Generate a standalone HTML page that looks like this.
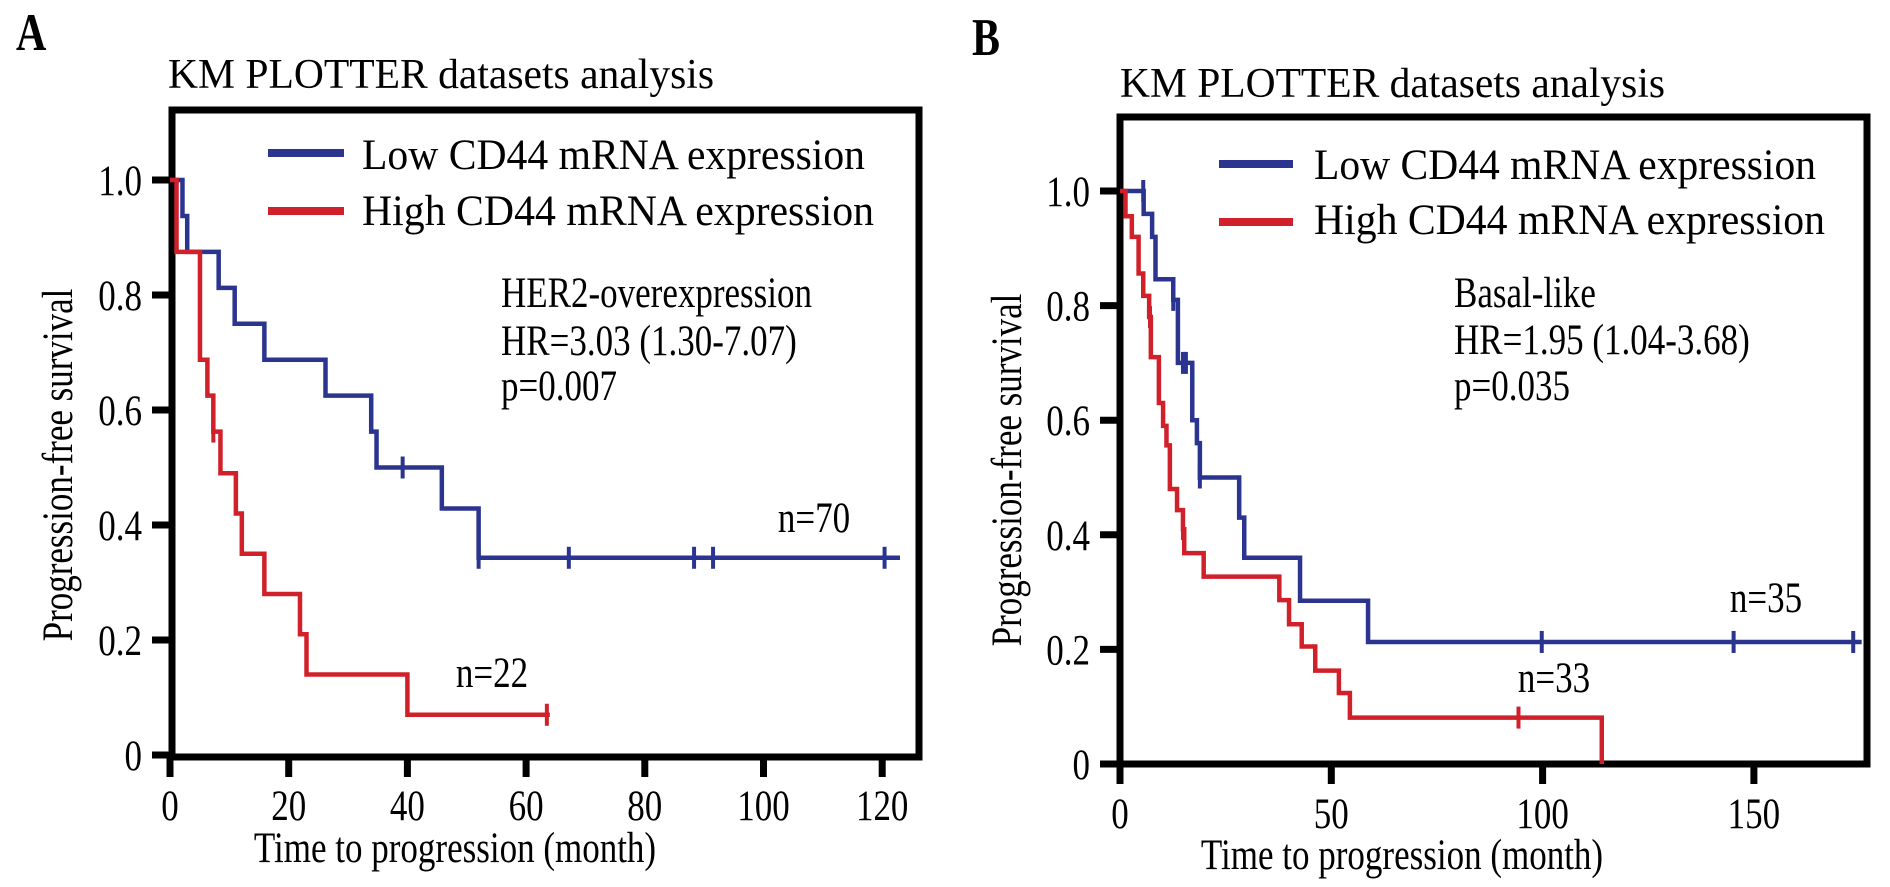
<!DOCTYPE html>
<html><head><meta charset="utf-8"><style>
html,body{margin:0;padding:0;background:#fff;}
svg{display:block;font-family:"Liberation Serif","Times New Roman",serif;}
</style></head>
<body>
<svg id="fig" width="1890" height="887" viewBox="0 0 1890 887" xmlns="http://www.w3.org/2000/svg">
<rect width="1890" height="887" fill="#fff"/>
<text class="big" x="16" y="50" font-size="42" font-weight="bold">A</text>
<text class="big" x="168" y="88" font-size="34" textLength="546" lengthAdjust="spacingAndGlyphs">KM PLOTTER datasets analysis</text>
<text class="big" x="972" y="55" font-size="42" font-weight="bold">B</text>
<text class="big" x="1120" y="97" font-size="34" textLength="545" lengthAdjust="spacingAndGlyphs">KM PLOTTER datasets analysis</text>
<g id="panelA"></g>
<g id="panelB"></g>
</svg>
<script>
// ---- Panel A data ----
const aXTicks = [0, 20, 40, 60, 80, 100, 120];
const aYTicks = [0, 0.2, 0.4, 0.6, 0.8, 1.0];
const aYTickLabels = ["0", "0.2", "0.4", "0.6", "0.8", "1.0"];
const aLowTimes = [0, 2.1, 2.9, 8.2, 10.9, 15.9, 26.2, 33.9, 34.8, 45.8, 52];
const aLowSurv  = [1.0, 0.9375, 0.875, 0.8125, 0.75, 0.6875, 0.625, 0.5625, 0.5, 0.4286, 0.343];
const aLowEnd = 123;
const aLowCensor = [39.2, 52, 67.2, 88.3, 91.5, 120.4];
const aHighTimes = [0, 1.1, 5.05, 6.3, 7.3, 8.5, 11.1, 12.1, 15.9, 21.9, 23, 40];
const aHighSurv  = [1.0, 0.875, 0.6875, 0.625, 0.5625, 0.49, 0.42, 0.35, 0.28, 0.21, 0.14, 0.07];
const aHighEnd = 64;
const aHighCensor = [7.3, 63.5];
// ---- Panel B data ----
const bXTicks = [0, 50, 100, 150];
const bYTicks = [0, 0.2, 0.4, 0.6, 0.8, 1.0];
const bYTickLabels = ["0", "0.2", "0.4", "0.6", "0.8", "1.0"];
const bLowTimes = [0, 5.6, 7.6, 8.4, 12.6, 13.7, 17.1, 18.2, 18.9, 28.2, 29.4, 42.6, 58.7];
const bLowSurv  = [1.0, 0.96, 0.92, 0.846, 0.81, 0.70, 0.60, 0.56, 0.50, 0.43, 0.36, 0.285, 0.213];
const bLowEnd = 175.5;
const bLowCensor = [5.5, 12.6, 14.9, 15.6, 18.9, 99.8, 145.2, 173.5];
const bHighTimes = [0, 1.3, 2.8, 4.4, 5.5, 6.9, 7.3, 9.2, 10.2, 11, 11.8, 13.5, 14.9, 15.2, 19.8, 37.7, 40, 43, 46.2, 51.8, 54.4, 114];
const bHighSurv  = [1.0, 0.956, 0.92, 0.856, 0.817, 0.78, 0.71, 0.63, 0.59, 0.556, 0.48, 0.443, 0.41, 0.368, 0.327, 0.286, 0.244, 0.205, 0.163, 0.124, 0.081, 0];
const bHighEnd = 114;
const bHighCensor = [7.1, 14.9, 94.3];

const NS = "http://www.w3.org/2000/svg";
const BLUE = "#2b3590", RED = "#d0212b";
function mk(parent, tag, attrs, text) {
  const e = document.createElementNS(NS, tag);
  for (const k in attrs) e.setAttribute(k, attrs[k]);
  if (text !== undefined) e.textContent = text;
  parent.appendChild(e);
  return e;
}
function stepPath(times, surv, end, sx, sy) {
  let d = "M" + sx(times[0]) + "," + sy(surv[0]);
  for (let i = 1; i < times.length; i++) {
    d += " H" + sx(times[i]) + " V" + sy(surv[i]);
  }
  d += " H" + sx(end);
  return d;
}
function survAt(times, surv, t) {
  let v = surv[0];
  for (let i = 0; i < times.length; i++) if (times[i] <= t) v = surv[i];
  return v;
}
function drawPanel(g, cfg) {
  const sx = v => cfg.x0 + v * cfg.xs;
  const sy = v => cfg.y0 - v * cfg.ys;
  const box = mk(g, "rect", {x: cfg.box[0], y: cfg.box[1], width: cfg.box[2]-cfg.box[0], height: cfg.box[3]-cfg.box[1], fill: "none", stroke: "#000", "stroke-width": 7});
  
  
  cfg.yTicks.forEach((v, i) => {
    const t = mk(g, "line", {x1: cfg.box[0]-20, x2: cfg.box[0], y1: sy(v), y2: sy(v), stroke: "#000", "stroke-width": 7});
    
    
    const l = mk(g, "text", {class: "big", x: cfg.box[0]-30, y: sy(v)+15, "font-size": 35, "text-anchor": "end"}, cfg.yLabels[i]);
    
    
  });
  cfg.xTicks.forEach(v => {
    const t = mk(g, "line", {x1: sx(v), x2: sx(v), y1: cfg.box[3], y2: cfg.box[3]+20, stroke: "#000", "stroke-width": 7});
    
    
    const l = mk(g, "text", {class: "big", x: sx(v), y: cfg.xLabelY, "font-size": 35, "text-anchor": "middle"}, String(v));
    
    
  });
  const xt = mk(g, "text", {class: "big", x: cfg.xTitleX, y: cfg.xTitleY, "font-size": 35, "text-anchor": "middle"}, "Time to progression (month)");
  
  
  const yt = mk(g, "text", {class: "big", x: 0, y: 0, "font-size": 35, "text-anchor": "middle", transform: "translate(" + cfg.yTitleX + "," + cfg.yTitleY + ") rotate(-90)"}, "Progression-free survival");
  
  
  cfg.series.forEach(s => {
    const p = mk(g, "path", {d: stepPath(s.times, s.surv, s.end, sx, sy), fill: "none", stroke: s.color, "stroke-width": 4.5, "stroke-linejoin": "miter"});
    
    
    s.censor.forEach(c => {
      const cy = sy(survAt(s.times, s.surv, c));
      const m = mk(g, "line", {x1: sx(c), x2: sx(c), y1: cy-11, y2: cy+11, stroke: s.color, "stroke-width": 4});
      
      
    });
  });
  cfg.legend.forEach(L => {
    const ln = mk(g, "line", {x1: L.x1, x2: L.x2, y1: L.y, y2: L.y, stroke: L.color, "stroke-width": 8});
    
    
    const tx = mk(g, "text", {class: "big", x: L.tx, y: L.ty, "font-size": 35, textLength: L.tl, lengthAdjust: "spacingAndGlyphs"}, L.text);
    
    
  });
  cfg.notes.forEach(N => {
    const tx = mk(g, "text", {class: "big", x: N.x, y: N.y, "font-size": 35, "text-anchor": N.anchor || "start"}, N.text);
    
    
  });
}
drawPanel(document.getElementById("panelA"), {
  x0: 170, xs: 5.935, y0: 755, ys: 575,
  box: [172, 110, 919, 757],
  xTicks: aXTicks, yTicks: aYTicks, yLabels: aYTickLabels,
  xLabelY: 820, xTitleX: 455, xTitleY: 862, yTitleX: 72, yTitleY: 465,
  series: [
    {name: "low-cd44", times: aLowTimes, surv: aLowSurv, end: aLowEnd, censor: aLowCensor, color: BLUE},
    {name: "high-cd44", times: aHighTimes, surv: aHighSurv, end: aHighEnd, censor: aHighCensor, color: RED}
  ],
  legend: [
    {x1: 268, x2: 344, y: 153, color: BLUE, tx: 362, ty: 169, tl: 503, text: "Low CD44 mRNA expression"},
    {x1: 268, x2: 344, y: 211, color: RED, tx: 362, ty: 225, tl: 512, text: "High CD44 mRNA expression"}
  ],
  notes: [
    {x: 501, y: 307, text: "HER2-overexpression", name: "subtype-label"},
    {x: 501, y: 355, text: "HR=3.03 (1.30-7.07)", name: "hazard-ratio-label"},
    {x: 501, y: 400, text: "p=0.007", name: "p-value-label"},
    {x: 814, y: 532, text: "n=70", anchor: "middle", name: "low-n-label"},
    {x: 492, y: 687, text: "n=22", anchor: "middle", name: "high-n-label"}
  ]
});
drawPanel(document.getElementById("panelB"), {
  x0: 1120, xs: 4.226, y0: 764, ys: 573,
  box: [1120, 117, 1867, 764],
  xTicks: bXTicks, yTicks: bYTicks, yLabels: bYTickLabels,
  xLabelY: 828, xTitleX: 1402, xTitleY: 869, yTitleX: 1021, yTitleY: 470,
  series: [
    {name: "low-cd44", times: bLowTimes, surv: bLowSurv, end: bLowEnd, censor: bLowCensor, color: BLUE},
    {name: "high-cd44", times: bHighTimes, surv: bHighSurv, end: bHighEnd, censor: bHighCensor, color: RED}
  ],
  legend: [
    {x1: 1219, x2: 1293, y: 164, color: BLUE, tx: 1314, ty: 179, tl: 502, text: "Low CD44 mRNA expression"},
    {x1: 1219, x2: 1293, y: 222, color: RED, tx: 1314, ty: 234, tl: 511, text: "High CD44 mRNA expression"}
  ],
  notes: [
    {x: 1454, y: 307, text: "Basal-like", name: "subtype-label"},
    {x: 1454, y: 354, text: "HR=1.95 (1.04-3.68)", name: "hazard-ratio-label"},
    {x: 1454, y: 400, text: "p=0.035", name: "p-value-label"},
    {x: 1766, y: 612, text: "n=35", anchor: "middle", name: "low-n-label"},
    {x: 1554, y: 692, text: "n=33", anchor: "middle", name: "high-n-label"}
  ]
});
// Enlarge glyph height while keeping measured widths (reference text is tall & narrow)
document.querySelectorAll("text.big").forEach(t => {
  const w = t.getComputedTextLength();
  const fs = parseFloat(t.getAttribute("font-size"));
  t.setAttribute("font-size", (fs * 1.25).toFixed(1));
  t.setAttribute("textLength", w.toFixed(1));
  t.setAttribute("lengthAdjust", "spacingAndGlyphs");
});
</script>
</body></html>
